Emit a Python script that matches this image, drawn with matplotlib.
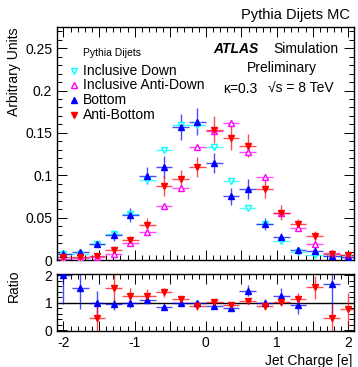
import numpy as np
import matplotlib
matplotlib.use("Agg")
import matplotlib.pyplot as plt
from matplotlib.ticker import MultipleLocator, FuncFormatter

plt.rcParams['font.family'] = ['Liberation Sans', 'DejaVu Sans']

# ---- data ----
bin_centers = np.linspace(-2.0, 2.0, 18)
half_width = 0.1176

incl_down = [0.0074, 0.0074, 0.019, 0.031, 0.054, 0.0947, 0.130, 0.1595, 0.1595,
             0.133, 0.0927, 0.061, 0.042, 0.023, 0.009, 0.006, 0.005, 0.0035]
incl_down_err = [0.001, 0.001, 0.002, 0.002, 0.002, 0.003, 0.003, 0.003, 0.003,
                 0.003, 0.003, 0.002, 0.002, 0.002, 0.001, 0.001, 0.001, 0.001]
incl_antidown = [0.0015, 0.0024, 0.004, 0.0074, 0.020, 0.033, 0.064, 0.085, 0.133,
                 0.152, 0.162, 0.128, 0.0979, 0.055, 0.0377, 0.019, 0.008, 0.0055]
incl_antidown_err = [0.001, 0.001, 0.001, 0.002, 0.002, 0.002, 0.003, 0.003, 0.003,
                     0.003, 0.003, 0.003, 0.003, 0.002, 0.002, 0.002, 0.001, 0.001]
bottom = [0.0074, 0.009, 0.019, 0.029, 0.053, 0.0994, 0.110, 0.157, 0.1634,
          0.115, 0.075, 0.0837, 0.0424, 0.0267, 0.0113, 0.011, 0.005, 0.0035]
bottom_err = [0.004, 0.004, 0.004, 0.0065, 0.0085, 0.0098, 0.0128, 0.0157, 0.016,
              0.0118, 0.0104, 0.0114, 0.0075, 0.0055, 0.004, 0.004, 0.003, 0.002]
antibottom = [0.004, 0.004, 0.005, 0.012, 0.024, 0.0416, 0.0876, 0.096, 0.110,
              0.154, 0.144, 0.135, 0.0837, 0.056, 0.0424, 0.028, 0.0075, 0.0055]
antibottom_err = [0.003, 0.003, 0.003, 0.004, 0.0043, 0.0078, 0.0118, 0.0102, 0.012,
                  0.0157, 0.0137, 0.0137, 0.0108, 0.0086, 0.0063, 0.006, 0.004, 0.003]

ratio_bottom = [2.0, 1.52, 0.97, 0.95, 0.97, 1.09, 0.85, 0.97, 1.0,
                0.87, 0.81, 1.43, 0.97, 1.24, 0.93, np.nan, 1.67, np.nan]
ratio_bottom_err = [1.05, 0.75, 0.45, 0.2, 0.15, 0.1, 0.07, 0.07, 0.08,
                    0.07, 0.08, 0.2, 0.15, 0.3, 0.35, 0.0, 1.1, 0.0]
ratio_anti = [np.nan, np.nan, 0.46, 1.52, 1.24, 1.24, 1.37, 1.15, 0.87,
              1.03, 0.91, 1.07, 0.87, 1.03, 1.15, 1.55, 0.46, 0.76]
ratio_anti_err = [0.0, 0.0, 0.5, 0.6, 0.3, 0.25, 0.15, 0.1, 0.12,
                  0.1, 0.1, 0.1, 0.12, 0.15, 0.2, 0.4, 0.5, 0.6]

C_CYAN = '#00ffff'
C_MAG = '#ff00ff'
C_BLUE = '#0000ff'
C_RED = '#ff0000'

fig = plt.figure(figsize=(3.58, 3.67), dpi=100)
L, R = 57/358, 354/358
ax = fig.add_axes([L, 1-260/367, R-L, (260-27)/367])
axr = fig.add_axes([L, 1-331/367, R-L, (331-274)/367])

xerr = np.full(len(bin_centers), half_width)

def draw(a, y, yerr, color, marker, filled, ms=5.0):
    a.errorbar(bin_centers, y, yerr=yerr, xerr=xerr, fmt='none', ecolor=color,
               elinewidth=1.0, capsize=0, alpha=0.7, zorder=2)
    a.plot(bin_centers, y, linestyle='none', marker=marker, markersize=ms,
           markerfacecolor=color if filled else 'white',
           markeredgecolor=color, markeredgewidth=1.0, zorder=3)

draw(ax, incl_down, incl_down_err, C_CYAN, 'v', False)
draw(ax, incl_antidown, incl_antidown_err, C_MAG, '^', False)
draw(ax, bottom, bottom_err, C_BLUE, '^', True)
draw(ax, antibottom, antibottom_err, C_RED, 'v', True)

draw(axr, ratio_bottom, ratio_bottom_err, C_BLUE, '^', True)
draw(axr, ratio_anti, ratio_anti_err, C_RED, 'v', True)
axr.axhline(1.0, color='black', linewidth=1.0, zorder=1)

for a in (ax, axr):
    a.set_xlim(-2.09, 2.08)
    a.xaxis.set_major_locator(MultipleLocator(0.5))
    a.xaxis.set_minor_locator(MultipleLocator(0.1))
    a.tick_params(which='both', direction='in', top=True, right=True,
                  labelsize=10, width=0.7)
    a.tick_params(which='major', length=7)
    a.tick_params(which='minor', length=3.5)
    for s in a.spines.values():
        s.set_linewidth(1.0)

ax.set_ylim(0, 0.275)
ax.yaxis.set_major_locator(MultipleLocator(0.05))
ax.yaxis.set_minor_locator(MultipleLocator(0.01))
ax.yaxis.set_major_formatter(FuncFormatter(lambda v, p: '0' if abs(v) < 1e-9 else ('%g' % v)))
ax.tick_params(labelbottom=False)

axr.set_ylim(-0.03, 2.04)
axr.yaxis.set_major_locator(MultipleLocator(1))
axr.yaxis.set_minor_locator(MultipleLocator(0.2))
axr.xaxis.set_major_formatter(FuncFormatter(
    lambda v, p: ('%d' % round(v)) if abs(v - round(v)) < 1e-6 else ''))

# axis labels
fig.text(14/358, 1-27/367, 'Arbitrary Units', rotation=90, ha='center', va='top', fontsize=10)
fig.text(14/358, 1-270/367, 'Ratio', rotation=90, ha='center', va='top', fontsize=10)
fig.text(352/358, 1-361/367, 'Jet Charge [e]', ha='right', va='center', fontsize=10)
fig.text(350/358, 1-15/367, 'Pythia Dijets MC', ha='right', va='center', fontsize=10.5)

# legend
tr = fig.transFigure
fig.text(83/358, 1-53/367, 'Pythia Dijets', fontsize=7.5, va='center')
leg_items = [('Inclusive Down', C_CYAN, 'v', False),
             ('Inclusive Anti-Down', C_MAG, '^', False),
             ('Bottom', C_BLUE, '^', True),
             ('Anti-Bottom', C_RED, 'v', True)]
leg_y = [70.7, 85.3, 99.5, 115.0]
for (lab, col, mk, fil), yy in zip(leg_items, leg_y):
    ax.plot([74/358], [1-yy/367], transform=tr, marker=mk, markersize=5.0,
            markerfacecolor=col if fil else 'white', markeredgecolor=col,
            markeredgewidth=1.0, linestyle='none', clip_on=False)
    fig.text(83/358, 1-yy/367, lab, fontsize=10, va='center')

# ATLAS block
fig.text(213/358, 1-49/367, 'ATLAS', fontsize=10, fontweight='bold', fontstyle='italic', va='center')
fig.text(273/358, 1-49/367, 'Simulation', fontsize=10, va='center')
fig.text(282/358, 1-68/367, 'Preliminary', fontsize=10, va='center', ha='center')
fig.text(223/358, 1-89/367, '\u03ba=0.3', fontsize=10, va='center')
fig.text(268/358, 1-89/367, '\u221as = 8 TeV', fontsize=10, va='center')

fig.savefig('out.png', dpi=100)
